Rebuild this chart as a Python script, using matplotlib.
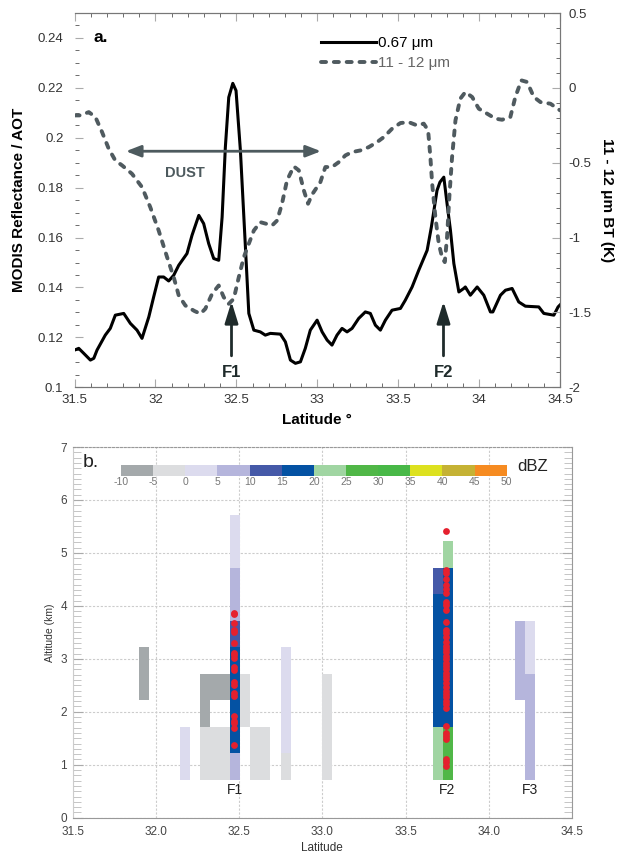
import numpy as np
import matplotlib
matplotlib.use('Agg')
import matplotlib.pyplot as plt
from matplotlib.colors import ListedColormap, BoundaryNorm
from matplotlib.cm import ScalarMappable
from matplotlib.ticker import MultipleLocator, FuncFormatter

plt.rcParams['axes.unicode_minus'] = False
plt.rcParams['font.family'] = ['Liberation Sans', 'DejaVu Sans']

# ---- panel a: MODIS 0.67 um reflectance (left axis)
refl_lat = [31.50, 31.526, 31.557, 31.598, 31.619, 31.639, 31.690, 31.721, 31.752, 31.804,
            31.845, 31.886, 31.917, 31.959, 31.989, 32.020, 32.051, 32.082, 32.113, 32.144,
            32.195, 32.226, 32.268, 32.298, 32.329, 32.360, 32.391, 32.412, 32.432, 32.453,
            32.478, 32.498, 32.525, 32.556, 32.577, 32.608, 32.648, 32.679, 32.710, 32.772,
            32.803, 32.834, 32.865, 32.896, 32.926, 32.957, 32.999, 33.030, 33.061, 33.091,
            33.122, 33.153, 33.184, 33.215, 33.256, 33.297, 33.328, 33.359, 33.390, 33.421,
            33.462, 33.514, 33.544, 33.586, 33.627, 33.679, 33.705, 33.740, 33.758, 33.782,
            33.802, 33.823, 33.844, 33.875, 33.905, 33.915, 33.946, 33.988, 34.029, 34.070,
            34.085, 34.132, 34.163, 34.204, 34.245, 34.286, 34.369, 34.400, 34.462, 34.488, 34.50]
refl_val = [0.1149, 0.1156, 0.1136, 0.1109, 0.1116, 0.1149, 0.1209, 0.1236, 0.1289, 0.1296,
            0.1256, 0.1229, 0.1196, 0.1282, 0.1362, 0.1442, 0.1442, 0.1426, 0.1449, 0.1489,
            0.1536, 0.1609, 0.1689, 0.1656, 0.1576, 0.1516, 0.1509, 0.1682, 0.1962, 0.2162,
            0.2218, 0.2189, 0.1949, 0.1562, 0.1296, 0.1229, 0.1222, 0.1209, 0.1216, 0.1213,
            0.1182, 0.1109, 0.1096, 0.1102, 0.1156, 0.1229, 0.1269, 0.1222, 0.1189, 0.1169,
            0.1209, 0.1236, 0.1222, 0.1236, 0.1276, 0.1302, 0.1296, 0.1249, 0.1229, 0.1269,
            0.1309, 0.1316, 0.1349, 0.1402, 0.1469, 0.1549, 0.1642, 0.1789, 0.1822, 0.1842,
            0.1736, 0.1629, 0.1496, 0.1382, 0.1396, 0.1402, 0.1369, 0.1402, 0.1369, 0.1302,
            0.1302, 0.1369, 0.1389, 0.1396, 0.1342, 0.1325, 0.1322, 0.1296, 0.1289, 0.1322, 0.1330]

# ---- panel a: 11 - 12 um BT difference (right axis)
bt_lat = [31.50, 31.536, 31.588, 31.629, 31.670, 31.711, 31.752, 31.794, 31.855, 31.917,
          31.968, 32.020, 32.072, 32.113, 32.144, 32.185, 32.240, 32.278, 32.308, 32.350,
          32.391, 32.422, 32.453, 32.484, 32.515, 32.546, 32.577, 32.608, 32.648, 32.721,
          32.752, 32.782, 32.813, 32.855, 32.886, 32.917, 32.943, 32.968, 33.019, 33.050,
          33.091, 33.133, 33.174, 33.215, 33.266, 33.318, 33.370, 33.411, 33.462, 33.514,
          33.565, 33.617, 33.658, 33.685, 33.699, 33.710, 33.730, 33.751, 33.771, 33.788,
          33.802, 33.816, 33.833, 33.854, 33.884, 33.915, 33.957, 33.998, 34.049, 34.101,
          34.142, 34.193, 34.224, 34.261, 34.297, 34.338, 34.379, 34.441, 34.50]
bt_val = [-0.184, -0.184, -0.162, -0.195, -0.295, -0.406, -0.485, -0.518, -0.574, -0.663,
          -0.797, -0.953, -1.131, -1.265, -1.387, -1.454, -1.490, -1.509, -1.476, -1.376,
          -1.320, -1.398, -1.443, -1.409, -1.265, -1.131, -1.041, -0.953, -0.897, -0.919,
          -0.886, -0.774, -0.618, -0.525, -0.551, -0.685, -0.774, -0.712, -0.630, -0.529,
          -0.529, -0.496, -0.451, -0.429, -0.418, -0.396, -0.362, -0.329, -0.273, -0.235,
          -0.229, -0.251, -0.239, -0.284, -0.463, -0.640, -0.864, -1.041, -1.131, -1.164,
          -0.997, -0.730, -0.463, -0.217, -0.072, -0.028, -0.061, -0.139, -0.172, -0.206,
          -0.213, -0.195, -0.061, 0.050, 0.039, -0.061, -0.095, -0.106, -0.150]

# feature arrows in panel a
feat_names = ['F1', 'F2']
feat_lat = [32.47, 33.78]

# ---- panel b: radar reflectivity cells (left edge lat, bottom km, top km, dBZ)
cell_lat = [31.90, 32.145, 32.265, 32.325, 32.385, 32.265, 32.325, 32.385,
            32.448, 32.448, 32.448, 32.448, 32.448, 32.508, 32.568, 32.628,
            32.75, 32.75, 33.00,
            33.667, 33.667, 33.667, 33.727, 33.727, 33.727,
            34.157, 34.217, 34.217]
cell_z0 = [2.22, 0.72, 1.72, 2.22, 2.22, 0.72, 0.72, 0.72,
           4.72, 3.72, 3.22, 1.22, 0.72, 1.72, 0.72, 0.72,
           1.22, 0.72, 0.72,
           4.22, 1.72, 0.72, 4.72, 1.72, 0.72,
           2.22, 2.72, 0.72]
cell_z1 = [3.22, 1.72, 2.72, 2.72, 2.72, 1.72, 1.72, 1.72,
           5.72, 4.72, 3.72, 3.22, 1.22, 2.72, 1.72, 1.72,
           3.22, 1.22, 2.72,
           4.72, 4.22, 1.72, 5.22, 4.72, 1.72,
           3.72, 3.72, 2.72]
cell_dbz = [-7, 2, -7, -7, -7, -2, -2, -2,
            2, 7, 12, 17, 7, -2, -2, -2,
            2, -2, -2,
            12, 17, 22, 22, 17, 27,
            7, 2, 7]

# red dots (lidar/cloud detections)
dot_lat_f1 = 32.468
dot_alt_f1 = [3.87, 3.84, 3.68, 3.54, 3.50, 3.30, 3.11, 3.07, 3.02, 2.84, 2.78,
              2.56, 2.51, 2.35, 2.29, 1.92, 1.83, 1.78, 1.69, 1.38]
dot_lat_f2 = 33.745
dot_alt_f2 = [5.42, 4.67, 4.62, 4.50, 4.40, 4.31, 4.24, 4.08, 4.02, 3.92, 3.70,
              3.55, 3.48, 3.42, 3.32, 3.25, 3.18, 3.12, 3.05, 2.99, 2.93, 2.86,
              2.80, 2.74, 2.67, 2.61, 2.55, 2.47, 2.40, 2.34, 2.27, 2.21, 2.15,
              2.08, 1.73, 1.59, 1.54, 1.48, 1.11, 1.05, 0.98]

b_names = ['F1', 'F2', 'F3']
b_lat = [32.475, 33.75, 34.245]

dbz_bounds = [-10, -5, 0, 5, 10, 15, 20, 25, 30, 35, 40, 45, 50]
dbz_colors = ['#a4a9ab', '#dcdddf', '#dcdbee', '#b5b5dc', '#4559a8', '#0452a3',
              '#a0d5a2', '#50b747', '#48b847', '#dde11f', '#c5b234', '#f68b21']

fmt = FuncFormatter(lambda v, p: '%g' % round(v, 4))

fig = plt.figure(figsize=(6.19, 8.61), dpi=100)

# ================= panel a =================
ax = fig.add_axes([0.1204, 0.5502, 0.7843, 0.4347])
ax.plot(refl_lat, refl_val, color='black', lw=2.2, label='0.67 \u03bcm')
ax.set_xlim(31.5, 34.5)
ax.set_ylim(0.1, 0.25)
ax.xaxis.set_major_locator(MultipleLocator(0.5))
ax.xaxis.set_minor_locator(MultipleLocator(0.1))
ax.yaxis.set_minor_locator(MultipleLocator(0.005))
ax.xaxis.set_major_formatter(fmt)
ax.set_yticks([0.1, 0.12, 0.14, 0.16, 0.18, 0.2, 0.22, 0.24])
ax.yaxis.set_major_formatter(fmt)
ax.tick_params(which='both', direction='in', top=True, labelsize=9.5, colors='#333333')
ax.tick_params(axis='x', pad=5)
ax.tick_params(axis='y', pad=8)
ax.tick_params(which='major', length=6, color='#aaaaaa')
ax.tick_params(which='minor', length=3, color='#555555')
for s in ['top', 'bottom', 'right']:
    ax.spines[s].set_color('#777777')
ax.spines['left'].set_visible(False)
ax.set_xlabel('Latitude \u00b0', fontsize=11, fontweight='bold', labelpad=5)
ax.set_ylabel('MODIS Reflectance / AOT', fontsize=11, fontweight='bold', labelpad=8)

ax2 = ax.twinx()
ln2, = ax2.plot(bt_lat, bt_val, color='#4f5a5f', lw=2.8, dash_capstyle='round',
                label='11 - 12 \u03bcm')
ln2.set_dashes((1.3, 2.0))
ax2.set_ylim(-2, 0.5)
ax2.yaxis.set_major_locator(MultipleLocator(0.5))
ax2.yaxis.set_minor_locator(MultipleLocator(0.1))
ax2.yaxis.set_major_formatter(fmt)
ax2.tick_params(which='both', direction='in', labelsize=9.5, colors='#333333', pad=6)
ax2.tick_params(which='major', length=6, color='#aaaaaa')
ax2.tick_params(which='minor', length=3, color='#555555')
for s in ['top', 'bottom', 'right']:
    ax2.spines[s].set_color('#777777')
ax2.spines['left'].set_visible(False)
ax2.set_ylabel('11 - 12 \u03bcm BT (K)', fontsize=11, fontweight='bold',
               rotation=270, labelpad=16)

leg = ax2.legend(handles=[ax.lines[0], ln2], loc='upper left',
                 bbox_to_anchor=(0.48, 0.975), frameon=False, fontsize=11,
                 handlelength=3.6, handletextpad=0.1, labelspacing=0.4)
leg.get_texts()[1].set_color('#666666')

ax.text(31.62, 0.240, 'a.', fontsize=12.5, fontweight='bold', va='center')

# DUST arrow
ax.annotate('', xy=(31.80, 0.1946), xytext=(33.04, 0.1946),
            arrowprops=dict(arrowstyle='<|-|>,head_length=0.9,head_width=0.35',
                            color='#4d5a5e', lw=2))
ax.text(32.18, 0.186, 'DUST', fontsize=10.5, fontweight='bold', color='#4d5a5e',
        ha='center', va='center')

for name, lat in zip(feat_names, feat_lat):
    ax.annotate('', xy=(lat, 0.1355), xytext=(lat, 0.1115),
                arrowprops=dict(arrowstyle='-|>,head_length=1.3,head_width=0.4',
                                color='#1f2b2b', lw=2))
    ax.text(lat, 0.106, name, fontsize=12, fontweight='bold', ha='center',
            va='center', color='#1f2b2b')

# ================= panel b =================
bx = fig.add_axes([0.1174, 0.0503, 0.8066, 0.4305])
cmap = ListedColormap(dbz_colors)
norm = BoundaryNorm(dbz_bounds, cmap.N)
heights = np.array(cell_z1) - np.array(cell_z0)
bx.bar(cell_lat, heights, bottom=cell_z0, width=0.06, align='edge',
       color=cmap(norm(cell_dbz)), linewidth=0, zorder=2)
bx.scatter([dot_lat_f1] * len(dot_alt_f1), dot_alt_f1, s=24, color='#e5202e',
           linewidths=0, zorder=3)
bx.scatter([dot_lat_f2] * len(dot_alt_f2), dot_alt_f2, s=24, color='#e5202e',
           linewidths=0, zorder=3)
for name, lat in zip(b_names, b_lat):
    bx.text(lat, 0.52, name, fontsize=10, ha='center', va='center', color='#222222')

bx.set_xlim(31.5, 34.5)
bx.set_ylim(0, 7)
bx.set_xticks([31.5, 32.0, 32.5, 33.0, 33.5, 34.0, 34.5])
bx.set_xticklabels(['%.1f' % v for v in [31.5, 32.0, 32.5, 33.0, 33.5, 34.0, 34.5]])
bx.yaxis.set_major_locator(MultipleLocator(1))
bx.yaxis.set_minor_locator(MultipleLocator(0.1))
bx.tick_params(axis='x', length=0, labelsize=8.5, colors='#444444', pad=6)
bx.tick_params(axis='y', which='both', direction='in', right=True, labelsize=8.5,
               colors='#444444', pad=4)
bx.tick_params(axis='y', which='major', length=7, color='#aaaaaa')
bx.tick_params(axis='y', which='minor', length=6, color='#bbbbbb')
bx.grid(True, color='#cccccc', linestyle=(0, (2, 1.5)), lw=0.8, zorder=0)
bx.set_axisbelow(True)
bx.spines['top'].set_linestyle((0, (2, 1.5)))
bx.spines['top'].set_color('#999999')
bx.spines['left'].set_color('#cccccc')
bx.spines['right'].set_color('#999999')
bx.spines['bottom'].set_color('#999999')
bx.set_xlabel('Latitude', fontsize=8.5, color='#333333', labelpad=3)
bx.set_ylabel('Altitude (km)', fontsize=7.5, color='#333333', labelpad=4)
bx.text(31.56, 6.70, 'b.', fontsize=14, va='center', color='#222222')
bx.text(34.17, 6.64, 'dBZ', fontsize=12, va='center', color='#222222')

cax = fig.add_axes([0.1955, 0.4475, 0.6231, 0.0124])
sm = ScalarMappable(norm=norm, cmap=cmap)
cb = fig.colorbar(sm, cax=cax, orientation='horizontal', ticks=dbz_bounds)
cb.outline.set_visible(False)
cb.ax.tick_params(length=0, labelsize=7.5, colors='#777777', pad=1)

fig.savefig('out.png', dpi=100)
